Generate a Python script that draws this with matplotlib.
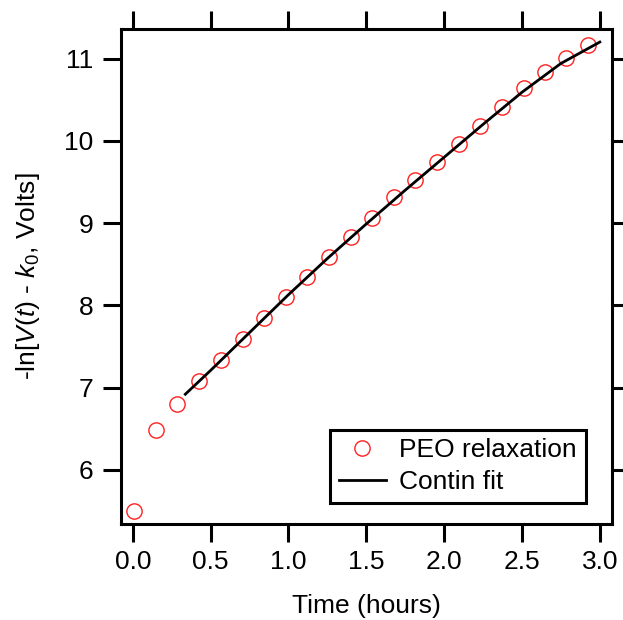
import matplotlib
matplotlib.use("Agg")
import matplotlib.pyplot as plt

plt.rcParams['font.family'] = ['Liberation Sans', 'DejaVu Sans']
plt.rcParams['mathtext.fontset'] = 'custom'
plt.rcParams['mathtext.rm'] = 'Liberation Sans'
plt.rcParams['mathtext.it'] = 'Liberation Sans:italic'

# data points (PEO relaxation)
time_h = [0.008, 0.148, 0.286, 0.426, 0.564, 0.705, 0.842, 0.983, 1.121, 1.259, 1.399,
          1.537, 1.675, 1.815, 1.953, 2.093, 2.231, 2.369, 2.510, 2.647, 2.785, 2.923]
neg_ln_v = [5.498, 6.487, 6.806, 7.076, 7.332, 7.588, 7.848, 8.104, 8.346, 8.592, 8.833,
            9.065, 9.311, 9.523, 9.745, 9.962, 10.184, 10.416, 10.638, 10.831, 11.010, 11.164]

# Contin fit
fit_t = [0.337, 0.5, 0.75, 1.0, 1.25, 1.5, 1.75, 2.0, 2.25, 2.5, 2.75, 3.0]
fit_y = [6.92, 7.21, 7.67, 8.13, 8.57, 8.99, 9.40, 9.80, 10.20, 10.59, 10.94, 11.20]

xticks = [0.0, 0.5, 1.0, 1.5, 2.0, 2.5, 3.0]
yticks = [6, 7, 8, 9, 10, 11]

FS = 19

fig = plt.figure(figsize=(6.23, 6.20), dpi=100)
ax = fig.add_axes([0.194, 0.155, 0.788, 0.798])

ax.plot(time_h, neg_ln_v, linestyle='none', marker='o', markersize=11,
        markerfacecolor='none', markeredgecolor='#ff2020', markeredgewidth=1.0,
        label='PEO relaxation', zorder=3)
ax.plot(fit_t, fit_y, color='black', linewidth=2.0, label='Contin fit', zorder=4)

ax.set_xlim(-0.077, 3.077)
ax.set_ylim(5.344, 11.357)
ax.set_xticks(xticks)
ax.set_xticklabels([f"{v:.1f}" for v in xticks])
ax.set_yticks(yticks)
ax.set_yticklabels([str(v) for v in yticks])

for s in ax.spines.values():
    s.set_linewidth(2.2)
ax.tick_params(axis='both', which='major', direction='out', length=13, width=2.2,
               labelsize=FS, top=True, right=True, labeltop=False, labelright=False)
ax.tick_params(axis='x', pad=6)
ax.tick_params(axis='y', pad=7)

ax.set_xlabel('Time (hours)', fontsize=FS, labelpad=14)
ax.set_ylabel(r'-ln[$\mathit{V}$($\mathit{t}$) - $\mathit{k}_0$, Volts]', fontsize=FS, labelpad=16)

leg = ax.legend(loc='lower right', bbox_to_anchor=(0.947, 0.042), borderaxespad=0,
                fontsize=FS, frameon=True, fancybox=False, handlelength=1.8,
                handletextpad=0.5, labelspacing=0.3, borderpad=0.33)
leg.get_frame().set_edgecolor('black')
leg.get_frame().set_linewidth(2.2)
leg.get_frame().set_alpha(1)

fig.savefig('out.png', dpi=100)
